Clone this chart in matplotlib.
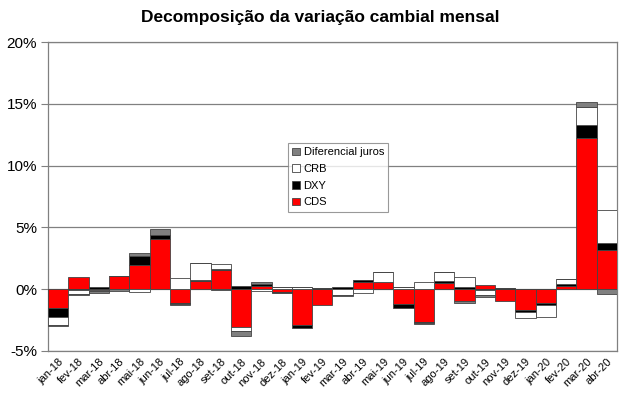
import matplotlib
matplotlib.use("Agg")
import matplotlib.pyplot as plt
import numpy as np
from matplotlib.ticker import FuncFormatter

months = ["jan-18", "fev-18", "mar-18", "abr-18", "mai-18", "jun-18", "jul-18",
          "ago-18", "set-18", "out-18", "nov-18", "dez-18", "jan-19", "fev-19",
          "mar-19", "abr-19", "mai-19", "jun-19", "jul-19", "ago-19", "set-19",
          "out-19", "nov-19", "dez-19", "jan-20", "fev-20", "mar-20", "abr-20"]

cds = [-1.55, 0.95, -0.10, 1.05, 1.97, 4.05, -1.10, 0.70, 1.55, -3.05, 0.25, -0.25,
       -2.90, -1.30, 0.00, 0.55, 0.55, -1.20, -2.65, 0.50, -0.95, 0.35, -0.95, -1.65,
       -1.10, 0.25, 12.20, 3.20]
dxy = [-0.70, -0.05, 0.20, 0.05, 0.73, 0.35, -0.10, 0.05, 0.10, 0.25, 0.20, -0.05,
       -0.27, 0.10, 0.20, 0.20, 0.05, -0.30, -0.05, 0.15, 0.15, -0.05, 0.10, -0.20,
       -0.15, 0.15, 1.08, 0.50]
crb = [-0.65, -0.35, -0.05, 0.00, -0.20, 0.00, 0.90, 1.40, 0.40, -0.30, -0.15, 0.15,
       0.15, 0.00, -0.50, -0.30, 0.80, 0.15, 0.60, 0.75, 0.85, -0.45, 0.00, -0.50,
       -1.00, 0.45, 1.50, 2.70]
dif = [-0.05, -0.05, -0.15, -0.15, 0.20, 0.50, -0.10, 0.00, -0.05, -0.45, 0.10, 0.00,
       0.00, 0.00, -0.05, 0.00, 0.00, 0.00, -0.15, 0.00, -0.15, -0.10, 0.00, 0.00,
       0.00, 0.00, 0.40, -0.40]

series = [("CDS", cds, "#ff0000"), ("DXY", dxy, "#000000"),
          ("CRB", crb, "#ffffff"), ("Diferencial juros", dif, "#808080")]

plt.rcParams["font.family"] = ["Liberation Sans", "DejaVu Sans"]

fig = plt.figure(figsize=(6.4, 3.99), dpi=100)
ax = fig.add_axes([48/640, 1 - 351/399, (617-48)/640, (351-42)/399])

x = np.arange(len(months))
pos_base = np.zeros(len(months))
neg_base = np.zeros(len(months))
handles = []
for name, vals, color in series:
    v = np.array(vals)
    bottom = np.where(v >= 0, pos_base, neg_base)
    h = ax.bar(x, v, width=1.0, bottom=bottom, color=color,
               edgecolor="#444444", linewidth=0.6, label=name, zorder=3)
    handles.append(h)
    pos_base = pos_base + np.where(v >= 0, v, 0)
    neg_base = neg_base + np.where(v < 0, v, 0)

ax.set_xlim(-0.5, len(months) - 0.5)
ax.set_ylim(-5, 20)
ax.set_yticks([-5, 0, 5, 10, 15, 20])
ax.yaxis.set_major_formatter(FuncFormatter(lambda v, p: f"{v:.0f}%"))
ax.yaxis.grid(True, color="#808080", linewidth=0.9, zorder=0)
ax.set_axisbelow(True)
ax.tick_params(axis="y", labelsize=11, length=5, color="#808080", pad=3)
ax.set_xticks(x)
ax.set_xticklabels(months, rotation=45, ha="right", rotation_mode="anchor",
                   fontsize=8)
ax.tick_params(axis="x", length=0, pad=4)
for s in ax.spines.values():
    s.set_color("#808080")
    s.set_linewidth(0.9)

leg = ax.legend(handles[::-1], [s[0] for s in series][::-1],
                loc="upper left", bbox_to_anchor=((288-48)/569, (351-143)/309),
                borderaxespad=0,
                fontsize=8, frameon=True, fancybox=False, edgecolor="#808080",
                handlelength=0.7, handleheight=0.7, handletextpad=0.3,
                borderpad=0.4, labelspacing=0.6)
leg.get_frame().set_linewidth(0.8)

fig.suptitle("Decomposição da variação cambial mensal", x=0.5, y=0.975,
             fontsize=12.5, fontweight="bold")

fig.savefig("out.png", dpi=100)
